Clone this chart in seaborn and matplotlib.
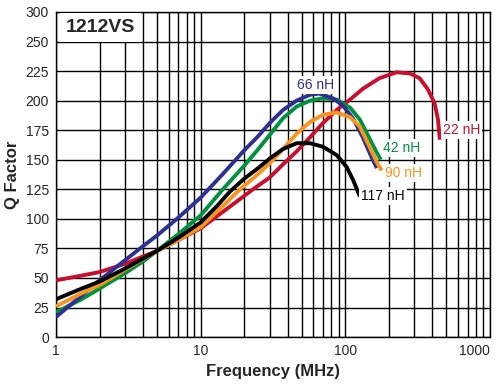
import numpy as np
import pandas as pd
import seaborn as sns
import matplotlib.pyplot as plt
from matplotlib.ticker import FixedLocator, NullFormatter

# values (frequency in MHz, Q factor)
f_22 = [1, 1.5, 2, 3, 5, 7, 10, 15, 23, 30, 37, 46, 57, 70, 87, 108, 132, 172, 226, 280, 326, 370, 414, 437, 450]
q_22 = [48, 52, 55, 62, 73, 82, 92, 108, 125, 135, 146, 157, 169, 181, 192, 201, 210, 219, 224, 223, 219, 210, 198, 184, 167]

f_42 = [1, 1.5, 2, 3, 4, 5, 7, 10, 14, 20, 25, 30, 37, 46, 57, 70, 87, 108, 126, 147, 165, 176]
q_42 = [21, 32, 41, 54, 64, 73, 87, 103, 124, 145, 159, 171, 185, 195, 200, 202, 201, 194, 184, 168, 156, 150]

f_66 = [1, 1.5, 2, 3, 4, 5, 7, 10, 14, 20, 25, 30, 37, 46, 57, 66, 82, 96, 113, 132, 152, 165]
q_66 = [17, 35, 48, 65, 77, 86, 101, 118, 137, 158, 170, 181, 192, 200, 205, 206, 202, 196, 185, 169, 152, 143]

f_90 = [1, 1.5, 2, 3, 5, 7, 10, 14, 18.7, 25, 30, 34, 37, 46, 57, 70, 87, 108, 126, 147, 165, 178]
q_90 = [26, 37, 44, 57, 73, 82, 93, 110, 125, 138, 147, 154, 159, 172, 182, 188, 190, 186, 178, 161, 148, 141]

f_117 = [1, 1.5, 2, 3, 5, 7, 10, 13, 15.9, 20, 25, 30, 37, 46, 57, 70, 87, 102, 113, 126]
q_117 = [32, 41, 47, 58, 73, 84, 97, 111, 123, 134, 143, 151, 159, 164, 164, 161, 154, 144, 133, 119]

series = [("22 nH", f_22, q_22, "#c8102e"),
          ("42 nH", f_42, q_42, "#00923f"),
          ("66 nH", f_66, q_66, "#2e3192"),
          ("90 nH", f_90, q_90, "#f7941d"),
          ("117 nH", f_117, q_117, "#000000")]

y_ticks = [0, 25, 50, 75, 100, 125, 150, 175, 200, 225, 250, 275]
y_labels = ["0", "25", "50", "75", "100", "125", "150", "175", "200", "225", "250", "300"]

sns.set_style("white")
plt.rcParams['font.family'] = ['Liberation Sans', 'DejaVu Sans']

fig = plt.figure(figsize=(5, 3.87), dpi=100)
ax = fig.add_axes([0.112, 0.129, 0.868, 0.84])

for name, f, q, c in series:
    df = pd.DataFrame({"f": f, "q": q})
    sns.lineplot(data=df, x="f", y="q", color=c, lw=2.8, ax=ax, sort=False,
                 solid_capstyle="butt", solid_joinstyle="round", zorder=3)

ax.set_xscale("log")
ax.set_xlim(1, 1000)
ax.set_ylim(0, 275)
ax.set_yticks(y_ticks)
ax.set_yticklabels(y_labels)
ax.set_xticks([1, 10, 100, 1000])
ax.set_xticklabels(["1", "10", "100", "1000"])
ax.get_xticklabels()[-1].set_ha("right")
minors = [m * d for d in (1, 10, 100) for m in range(2, 10)]
ax.xaxis.set_minor_locator(FixedLocator(minors))
ax.xaxis.set_minor_formatter(NullFormatter())

ax.grid(True, which="both", axis="x", color="black", lw=1.0)
ax.grid(True, which="major", axis="y", color="black", lw=1.0)
ax.set_axisbelow(True)
for s in ax.spines.values():
    s.set_color("black")
    s.set_linewidth(1.0)
ax.tick_params(axis="both", which="both", length=0, labelsize=10, pad=5)

ax.set_xlabel("Frequency (MHz)", fontsize=12, fontweight="bold", labelpad=4)
ax.set_ylabel("Q Factor", fontsize=12, fontweight="bold", labelpad=4)

box = dict(facecolor="white", edgecolor="none", pad=1.5)
ax.text(1.17, 262, "1212VS", fontsize=14, fontweight="bold", va="center", ha="left",
        bbox=dict(facecolor="white", edgecolor="none", pad=4), zorder=4)
ax.text(62, 213, "66 nH", color="#2e3192", fontsize=10, ha="center", va="center", bbox=box, zorder=4)
ax.text(182, 160, "42 nH", color="#00923f", fontsize=10, ha="left", va="center", bbox=box, zorder=4)
ax.text(188, 139, "90 nH", color="#f7941d", fontsize=10, ha="left", va="center", bbox=box, zorder=4)
ax.text(128, 119, "117 nH", color="black", fontsize=10, ha="left", va="center", bbox=box, zorder=4)
ax.text(473, 175, "22 nH", color="#c8102e", fontsize=10, ha="left", va="center", bbox=box, zorder=4)

fig.savefig("out.png", dpi=100)
